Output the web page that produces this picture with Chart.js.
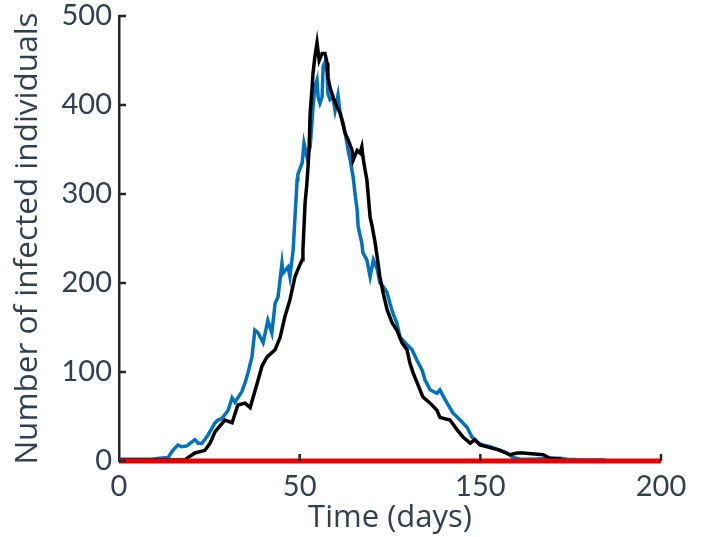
<!DOCTYPE html>
<html lang="en">
<head>
  <meta charset="UTF-8">
  <title>Number of infected individuals</title>
  <script src="https://cdn.jsdelivr.net/npm/chart.js"></script>
  <style>
    body { margin: 0; background: #ffffff; }
    #wrap { width: 705px; height: 537px; }
  </style>
</head>
<body>
  <div id="wrap"><canvas id="infChart" width="705" height="537"></canvas></div>

  <script>
    // axis positions 0..150 carry the labels printed on the reference
    const xTickLabels = ["0", "50", "150", "200"];

    const blackDays = [0, 18.3, 18.8, 21.0, 23.8, 25.2, 26.6, 29.3, 31.3, 32.9, 34.9, 36.3, 38.5, 39.6, 41.0, 43.2,
      44.6, 45.9, 47.3, 48.7, 49.5, 50.7, 50.9, 51.5, 52.0, 52.3, 52.6, 52.9, 53.4, 53.7, 54.2, 54.8, 55.4, 56.2,
      57.0, 57.6, 57.8, 58.4, 59.2, 60.3, 61.2, 61.7, 62.6, 63.4, 64.5, 64.8, 65.9, 66.7, 67.2, 67.5, 68.1, 68.6,
      69.5, 70.1, 70.9, 71.7, 72.2, 73.1, 74.2, 75.6, 76.9, 78.3, 79.7, 80.5, 81.4, 82.5, 84.1, 86.1, 88.0, 88.8,
      91.6, 93.6, 95.2, 97.2, 98.5, 99.9, 102.7, 105.5, 108.2, 110.2, 111.8, 117.4, 119.3, 122.1, 123.4];
    const blackCounts = [1, 1, 3, 9, 12, 20, 33, 46, 43, 63, 65, 60, 91, 107, 117, 125,
      139, 162, 181, 207, 215, 226, 237, 290, 312, 330, 350, 391, 417, 436, 454, 470, 450, 458,
      458, 447, 431, 420, 409, 398, 391, 383, 368, 361, 349, 338, 349, 346, 353, 342, 327, 316,
      274, 263, 245, 222, 207, 189, 170, 155, 147, 133, 125, 110, 99, 88, 72, 65, 57, 49,
      46, 35, 27, 20, 24, 18, 15, 12, 7, 9, 9, 7, 3, 2, 0];

    const blueDays = [0, 9.1, 11.3, 13.6, 14.9, 16.3, 17.4, 18.8, 21.0, 21.9, 23.0, 24.6, 26.6, 27.4, 28.5, 29.3,
      30.2, 31.3, 32.1, 34.0, 34.9, 35.7, 36.8, 37.6, 38.5, 39.9, 41.2, 42.3, 43.2, 44.0, 45.1, 45.4, 46.8, 47.3,
      48.2, 48.7, 49.3, 49.5, 50.7, 51.2, 52.0, 52.9, 53.7, 54.2, 54.8, 55.1, 55.6, 56.2, 56.5, 57.0, 57.6, 57.8,
      58.4, 59.2, 59.8, 60.6, 61.2, 62.0, 62.6, 63.1, 63.4, 64.0, 64.8, 65.3, 65.9, 66.2, 67.2, 67.5, 68.6, 69.5,
      70.4, 71.5, 72.2, 73.1, 74.2, 75.0, 75.8, 76.9, 77.8, 79.2, 81.1, 82.5, 83.9, 84.7, 86.1, 88.0, 88.8, 90.8,
      92.4, 94.4, 96.3, 97.7, 99.1, 100.7, 102.7, 105.5, 107.4, 109.0, 111.0, 114.6, 119.3, 122.1, 124.0, 128.4, 134.5];
    const blueCounts = [2, 2, 3, 4, 12, 18, 16, 17, 24, 20, 20, 29, 43, 46, 48, 52,
      57, 71, 66, 78, 88, 99, 117, 147, 144, 133, 158, 144, 177, 184, 222, 211, 218, 207,
      237, 274, 316, 322, 335, 357, 342, 353, 398, 420, 428, 409, 402, 409, 443, 448, 436, 413,
      406, 409, 394, 411, 391, 380, 368, 357, 349, 338, 319, 301, 282, 263, 245, 234, 226, 207,
      226, 215, 200, 196, 189, 177, 166, 155, 139, 133, 125, 113, 102, 91, 80, 76, 80, 65,
      54, 46, 38, 27, 21, 18, 16, 12, 9, 4, 2, 2, 3, 3, 2, 1, 1];

    const redDays = [0, 150];
    const redCounts = [0, 0];

    const yTicks = [0, 100, 200, 300, 400, 500];

    const toPoints = (xs, ys) => xs.map((x, i) => ({ x: x, y: ys[i] }));

    const axisColor = "#262626";
    const textColor = "#333f50";
    const tickFont = "Lato, 'Open Sans', sans-serif";
    const titleFont = "'Open Sans', Lato, sans-serif";

    // short tick marks pointing into the plot, like the original figure
    const innerTicks = {
      id: "innerTicks",
      afterDraw(chart) {
        const ctx = chart.ctx;
        const xs = chart.scales.x, ys = chart.scales.y;
        const area = chart.chartArea;
        ctx.save();
        ctx.strokeStyle = axisColor;
        ctx.lineWidth = 2.5;
        ctx.beginPath();
        yTicks.forEach(v => {
          const py = ys.getPixelForValue(v);
          ctx.moveTo(area.left, py);
          ctx.lineTo(area.left + 7, py);
        });
        [50, 100, 150].forEach(v => {
          const px = xs.getPixelForValue(v);
          ctx.moveTo(px, area.bottom);
          ctx.lineTo(px, area.bottom - 7);
        });
        ctx.stroke();
        ctx.restore();
      }
    };

    new Chart(document.getElementById("infChart"), {
      type: "line",
      data: {
        datasets: [
          { label: "zero", data: toPoints(redDays, redCounts), borderColor: "#e60000", borderWidth: 5, pointRadius: 0, clip: false },
          { label: "run 1", data: toPoints(blackDays, blackCounts), borderColor: "#000000", borderWidth: 3.5, pointRadius: 0 },
          { label: "run 2", data: toPoints(blueDays, blueCounts), borderColor: "#0072bd", borderWidth: 3.5, pointRadius: 0 }
        ]
      },
      options: {
        responsive: false,
        animation: false,
        layout: { padding: { top: 16, right: 44, left: 9, bottom: 0 } },
        plugins: { legend: { display: false }, tooltip: { enabled: false } },
        scales: {
          x: {
            type: "linear",
            min: 0,
            max: 150,
            grid: { display: false, drawTicks: false },
            border: { display: false },
            ticks: {
              stepSize: 50,
              padding: 8,
              color: textColor,
              font: { family: tickFont, size: 29 },
              callback: (v) => xTickLabels[Math.round(v / 50)]
            },
            title: {
              display: true,
              text: "Time (days)",
              color: textColor,
              font: { family: titleFont, size: 31 },
              padding: { top: 0, bottom: 0 }
            },
            afterFit: (s) => { s.height = 76; s.paddingLeft = 0; s.paddingRight = 0; }
          },
          y: {
            min: 0,
            max: 500,
            grid: { display: false, drawTicks: false },
            border: { display: true, color: axisColor, width: 2.5 },
            ticks: {
              stepSize: 100,
              padding: 7,
              color: textColor,
              font: { family: tickFont, size: 29 }
            },
            title: {
              display: true,
              text: "Number of infected individuals",
              color: textColor,
              font: { family: titleFont, size: 31.5 },
              padding: { top: 0, bottom: 0 }
            },
            afterFit: (s) => { s.width = 110; s.paddingTop = 0; s.paddingBottom = 0; }
          }
        }
      },
      plugins: [innerTicks]
    });
  </script>
</body>
</html>
